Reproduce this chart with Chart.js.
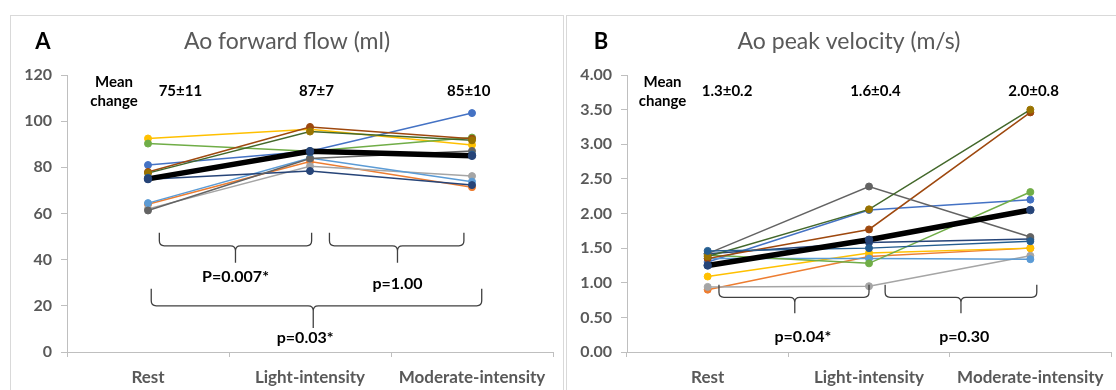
<!DOCTYPE html>
<html>
<head>
<meta charset="utf-8">
<script src="https://cdn.jsdelivr.net/npm/chart.js@4.4.1/dist/chart.umd.min.js"></script>
<style>
  html, body { margin: 0; padding: 0; background: #fff; }
  body { width: 1116px; height: 390px; position: relative; overflow: hidden; }
  .frame { position: absolute; top: 15px; height: 400px; border: 1px solid #d9d9d9; box-sizing: border-box; }
  #frameA { left: 10px; width: 554px; }
  #frameB { left: 566px; width: 560px; }
  canvas { position: absolute; top: 0; }
  #flowChart { left: 0; }
  #velChart { left: 563px; }
</style>
</head>
<body>
<div class="frame" id="frameA"></div>
<div class="frame" id="frameB"></div>
<canvas id="flowChart" width="563" height="390"></canvas>
<canvas id="velChart" width="553" height="390"></canvas>
<script>
// --- data ---
const categories = ['Rest', 'Light-intensity', 'Moderate-intensity'];

// Excel default palette, one per subject
const lineColors   = ['#4472C4', '#ED7D31', '#A5A5A5', '#FFC000', '#5B9BD5', '#70AD47', '#264478', '#9E480E', '#636363', '#43682B', '#255E91'];
const markerColors = ['#4472C4', '#ED7D31', '#A5A5A5', '#FFC000', '#5B9BD5', '#70AD47', '#264478', '#9E480E', '#636363', '#997300', '#255E91'];

// A: Ao forward flow (ml), per subject [rest, light, moderate]
const flowSubjects = [
    [81, 87, 103.5],
    [64, 82.5, 71.4],
    [62, 80.5, 76.2],
    [92.5, 96.5, 89.7],
    [64.5, 84, 73.8],
    [90.3, 87, 92.9],
    [74.8, 78.4, 72.3],
    [78, 97.5, 92.4],
    [61.3, 83.8, 87.1],
    [77.5, 95.5, 91.7],
    [75.5, 86.5, 85.5]
];
const flowMean = [75, 87, 85];
const flowMeanLabels = ['75±11', '87±7', '85±10'];
const flowTicks = { min: 0, max: 120, step: 20 };

// B: Ao peak velocity (m/s)
const velSubjects = [
    [1.30, 2.05, 2.20],
    [0.90, 1.38, 1.50],
    [0.94, 0.95, 1.39],
    [1.09, 1.43, 1.50],
    [1.35, 1.35, 1.34],
    [1.40, 1.28, 2.31],
    [1.42, 1.58, 1.63],
    [1.35, 1.77, 3.46],
    [1.42, 2.39, 1.66],
    [1.38, 2.06, 3.50],
    [1.46, 1.50, 1.60]
];
const velMean = [1.25, 1.62, 2.05];
const velMeanLabels = ['1.3±0.2', '1.6±0.4', '2.0±0.8'];
const velTicks = { min: 0, max: 4, step: 0.5 };

const FONT = "Lato, 'Open Sans', sans-serif";
const AXIS_GREY = '#bfbfbf';
const TEXT_GREY = '#595959';

// curly brace pointing down, drawn between two x positions
function drawBrace(ctx, x1, x2, xc, yTop, yMid, yTip) {
    const r = 5;
    ctx.beginPath();
    ctx.moveTo(x1, yTop);
    ctx.lineTo(x1, yMid - r);
    ctx.quadraticCurveTo(x1, yMid, x1 + r, yMid);
    ctx.lineTo(xc - r, yMid);
    ctx.quadraticCurveTo(xc, yMid, xc, yMid + r);
    ctx.lineTo(xc, yTip);
    ctx.moveTo(xc, yMid + r);
    ctx.quadraticCurveTo(xc, yMid, xc + r, yMid);
    ctx.lineTo(x2 - r, yMid);
    ctx.quadraticCurveTo(x2, yMid, x2, yMid - r);
    ctx.lineTo(x2, yTop);
    ctx.stroke();
}

// titles, mean labels, braces and p-values
const notesPlugin = {
    id: 'notes',
    afterDraw(chart, args, opts) {
        const ctx = chart.ctx;
        const xs = chart.scales.x, ys = chart.scales.y;
        ctx.save();
        ctx.textAlign = 'center';
        ctx.textBaseline = 'middle';

        ctx.fillStyle = '#000';
        ctx.font = 'bold 22px ' + FONT;
        ctx.fillText(opts.letter, opts.letterX, 42);
        ctx.fillStyle = TEXT_GREY;
        ctx.font = '23px ' + FONT;
        ctx.fillText(opts.title, opts.titleX, 42);

        ctx.fillStyle = '#000';
        ctx.font = 'bold 15px ' + FONT;
        const hx = xs.getPixelForValue(opts.headerX);
        ctx.fillText('Mean', hx, 82);
        ctx.fillText('change', hx, 101);
        ctx.font = 'bold 15px ' + FONT;
        opts.meanLabels.forEach((t, i) => ctx.fillText(t, xs.getPixelForValue(opts.meanX[i]), 91));

        ctx.strokeStyle = '#404040';
        ctx.lineWidth = 1.3;
        opts.braces.forEach(b => drawBrace(ctx,
            xs.getPixelForValue(b.from), xs.getPixelForValue(b.to), xs.getPixelForValue(b.tip),
            ys.getPixelForValue(b.top), ys.getPixelForValue(b.mid), ys.getPixelForValue(b.bottom)));

        ctx.font = 'bold 16px ' + FONT;
        opts.pLabels.forEach(p => ctx.fillText(p.text, xs.getPixelForValue(p.x), ys.getPixelForValue(p.y)));
        ctx.restore();
    }
};

function buildDatasets(subjects, mean) {
    const sets = [{
        data: mean,
        borderColor: '#000',
        borderWidth: 5.5,
        pointRadius: 3.8,
        pointBorderWidth: 1,
        pointBackgroundColor: '#264478',
        pointBorderColor: '#264478',
        order: 0
    }];
    subjects.forEach((vals, i) => {
        sets.push({
            data: vals,
            borderColor: lineColors[i],
            borderWidth: 1.5,
            pointRadius: 3.5,
            pointBorderWidth: 1,
            pointBackgroundColor: markerColors[i],
            pointBorderColor: markerColors[i],
            order: subjects.length - i
        });
    });
    return sets;
}

function makeChart(id, subjects, mean, ticks, decimals, yWidth, padRight, notes) {
    return new Chart(document.getElementById(id), {
        type: 'line',
        data: { labels: categories, datasets: buildDatasets(subjects, mean) },
        plugins: [notesPlugin],
        options: {
            responsive: false,
            animation: false,
            devicePixelRatio: 1,
            layout: { padding: { top: 75, right: padRight, left: 0, bottom: 0 } },
            plugins: { legend: { display: false }, tooltip: { enabled: false }, notes },
            scales: {
                x: {
                    type: 'category',
                    offset: true,
                    grid: { offset: true, drawOnChartArea: false, tickLength: 5, color: AXIS_GREY },
                    border: { color: AXIS_GREY, width: 1 },
                    ticks: { color: TEXT_GREY, font: { family: FONT, size: 17, weight: 'bold' }, padding: 10, maxRotation: 0, autoSkip: false },
                    afterFit(scale) { scale.height = 38; }
                },
                y: {
                    min: ticks.min,
                    max: ticks.max,
                    grid: { drawOnChartArea: false, tickLength: 6, color: AXIS_GREY },
                    border: { color: AXIS_GREY, width: 1 },
                    ticks: {
                        stepSize: ticks.step,
                        color: TEXT_GREY,
                        padding: 9,
                        font: { family: FONT, size: 16, weight: 'bold' },
                        callback: v => v.toFixed(decimals)
                    },
                    afterFit(scale) { scale.width = yWidth; }
                }
            }
        }
    });
}

makeChart('flowChart', flowSubjects, flowMean, flowTicks, 0, 67, 10, {
    letter: 'A', letterX: 43,
    title: 'Ao forward flow (ml)', titleX: 287,
    headerX: -0.21,
    meanLabels: flowMeanLabels, meanX: [0.2, 1.04, 1.98],
    braces: [
        { from: 0.07, to: 1.01, tip: 0.54, top: 51.7, mid: 46, bottom: 38.7 },
        { from: 1.12, to: 1.95, tip: 1.54, top: 51.7, mid: 46, bottom: 38.7 },
        { from: 0.02, to: 2.06, tip: 1.02, top: 27.4, mid: 20, bottom: 10.4 }
    ],
    pLabels: [
        { text: 'P=0.007*', x: 0.54, y: 32.6 },
        { text: 'p=1.00', x: 1.54, y: 29.6 },
        { text: 'p=0.03*', x: 0.97, y: 6 }
    ]
});

makeChart('velChart', velSubjects, velMean, velTicks, 2, 64, 2, {
    letter: 'B', letterX: 38,
    title: 'Ao peak velocity (m/s)', titleX: 286,
    headerX: -0.28,
    meanLabels: velMeanLabels, meanX: [0.12, 1.04, 2.02],
    braces: [
        { from: 0.07, to: 1.0, tip: 0.54, top: 0.97, mid: 0.79, bottom: 0.56 },
        { from: 1.1, to: 2.04, tip: 1.57, top: 0.97, mid: 0.79, bottom: 0.56 }
    ],
    pLabels: [
        { text: 'p=0.04*', x: 0.59, y: 0.22 },
        { text: 'p=0.30', x: 1.59, y: 0.22 }
    ]
});
</script>
</body>
</html>
